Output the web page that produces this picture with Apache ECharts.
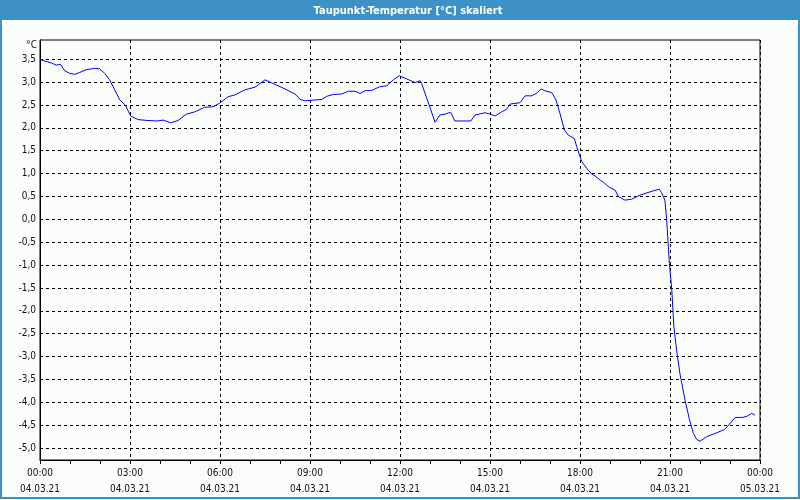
<!DOCTYPE html>
<html>
<head>
<meta charset="utf-8">
<script src="https://cdn.jsdelivr.net/npm/echarts@6/dist/echarts.min.js"></script>
<style>
html,body{margin:0;padding:0;background:#fbfdfb;}
#chart{width:800px;height:500px;}
</style>
</head>
<body>
<div id="chart"></div>
<script>
const titleText = 'Taupunkt-Temperatur [°C] skaliert';
const unitLabel = '°C';
const hours = [0, 0.38, 0.54, 0.68, 0.82, 0.99, 1.16, 1.32, 1.54, 1.82, 1.99, 2.16, 2.32, 2.49, 2.66, 2.84, 3.02, 3.27, 3.6, 3.93, 4.1, 4.36, 4.6, 4.88, 5.16, 5.49, 5.77, 5.99, 6.27, 6.5, 6.83, 7.17, 7.5, 7.83, 8.17, 8.5, 8.67, 8.83, 9.17, 9.39, 9.56, 9.78, 10.06, 10.28, 10.5, 10.67, 10.83, 11.06, 11.33, 11.56, 11.78, 11.97, 12.22, 12.5, 12.67, 12.72, 12.89, 13.17, 13.33, 13.5, 13.69, 13.83, 14.36, 14.5, 14.83, 15.0, 15.17, 15.39, 15.56, 15.67, 16.0, 16.17, 16.39, 16.56, 16.7, 16.83, 17.06, 17.2, 17.33, 17.48, 17.61, 17.81, 17.89, 17.98, 18.06, 18.22, 18.39, 18.5, 18.67, 18.78, 18.98, 19.17, 19.28, 19.5, 19.72, 20.0, 20.33, 20.64, 20.72, 20.83, 20.89, 20.98, 21.06, 21.13, 21.22, 21.33, 21.5, 21.64, 21.78, 21.89, 22.0, 22.22, 22.5, 22.83, 23.02, 23.17, 23.42, 23.58, 23.72, 23.83];
const temps = [3.49, 3.42, 3.37, 3.39, 3.25, 3.19, 3.17, 3.21, 3.27, 3.30, 3.29, 3.19, 3.05, 2.83, 2.61, 2.50, 2.26, 2.18, 2.16, 2.15, 2.17, 2.11, 2.16, 2.30, 2.35, 2.45, 2.46, 2.54, 2.68, 2.72, 2.83, 2.89, 3.05, 2.95, 2.85, 2.74, 2.62, 2.59, 2.61, 2.62, 2.69, 2.73, 2.74, 2.80, 2.80, 2.75, 2.81, 2.82, 2.90, 2.92, 3.05, 3.14, 3.07, 2.99, 3.03, 2.97, 2.65, 2.12, 2.28, 2.30, 2.34, 2.15, 2.15, 2.28, 2.33, 2.30, 2.26, 2.35, 2.41, 2.52, 2.55, 2.70, 2.70, 2.76, 2.85, 2.81, 2.77, 2.61, 2.32, 1.95, 1.84, 1.77, 1.59, 1.41, 1.26, 1.12, 0.99, 0.95, 0.86, 0.81, 0.70, 0.64, 0.50, 0.42, 0.44, 0.53, 0.60, 0.66, 0.58, 0.42, -0.02, -0.96, -1.55, -2.35, -2.86, -3.37, -3.95, -4.35, -4.68, -4.81, -4.85, -4.75, -4.68, -4.59, -4.45, -4.33, -4.33, -4.30, -4.24, -4.28];
const yTicks = [-5, -4.5, -4, -3.5, -3, -2.5, -2, -1.5, -1, -0.5, 0, 0.5, 1, 1.5, 2, 2.5, 3, 3.5];
const xTickHours = [0, 3, 6, 9, 12, 15, 18, 21, 24];
const xTickTimes = ['00:00', '03:00', '06:00', '09:00', '12:00', '15:00', '18:00', '21:00', '00:00'];
const xTickDates = ['04.03.21', '04.03.21', '04.03.21', '04.03.21', '04.03.21', '04.03.21', '04.03.21', '04.03.21', '05.03.21'];

const font = "'DejaVu Sans Condensed', 'DejaVu Sans', sans-serif";
const chart = echarts.init(document.getElementById('chart'), null, {renderer: 'canvas'});
const dashed = {color: '#000', width: 1, type: [3, 3]};
chart.setOption({
  backgroundColor: '#fbfdfb',
  animation: false,
  graphic: [
    {type: 'rect', z: -1, shape: {x: 0, y: 0, width: 800, height: 20}, style: {fill: '#3d91c7'}},
    {type: 'rect', z: -1, shape: {x: 1, y: 0, width: 798, height: 498}, style: {fill: 'none', stroke: '#3d91c7', lineWidth: 2}},
    {type: 'text', x: 408, y: 11, style: {text: titleText, align: 'center', verticalAlign: 'middle', fill: '#fff', font: 'bold 11px ' + font}},
    {type: 'text', x: 37, y: 45, style: {text: unitLabel, align: 'right', verticalAlign: 'middle', fill: '#111', font: '10px ' + font}}
  ],
  grid: {left: 40, right: 40, top: 40, bottom: 40, show: true, borderColor: '#000', borderWidth: 1, backgroundColor: 'transparent'},
  xAxis: {
    type: 'value', min: 0, max: 24, interval: 3,
    axisLine: {show: true, onZero: false, lineStyle: {color: '#000', width: 1}},
    axisTick: {show: true, length: 4, lineStyle: {color: '#000'}},
    minorTick: {show: true, splitNumber: 3, length: 4, lineStyle: {color: '#000'}},
    splitLine: {show: true, lineStyle: dashed},
    axisLabel: {
      margin: 5, lineHeight: 16, color: '#111', fontSize: 10, fontFamily: font,
      showMinLabel: true, showMaxLabel: true, hideOverlap: false,
      formatter: v => {
        const i = xTickHours.indexOf(Math.round(v));
        return i < 0 ? '' : xTickTimes[i] + '\n' + xTickDates[i];
      }
    }
  },
  yAxis: {
    type: 'value', min: -5.26, max: 3.92,
    axisLine: {show: true, onZero: false, lineStyle: {color: '#000'}},
    axisTick: {show: false, customValues: yTicks},
    splitLine: {show: true, lineStyle: dashed},
    axisLabel: {
      customValues: yTicks, margin: 4, color: '#111', fontSize: 10, fontFamily: font,
      formatter: v => v.toFixed(1).replace('.', ',')
    }
  },
  series: [{
    type: 'line', showSymbol: false, symbol: 'none', smooth: false,
    lineStyle: {color: '#0000ff', width: 1},
    data: hours.map((h, i) => [h, temps[i]])
  }]
});
</script>
</body>
</html>
